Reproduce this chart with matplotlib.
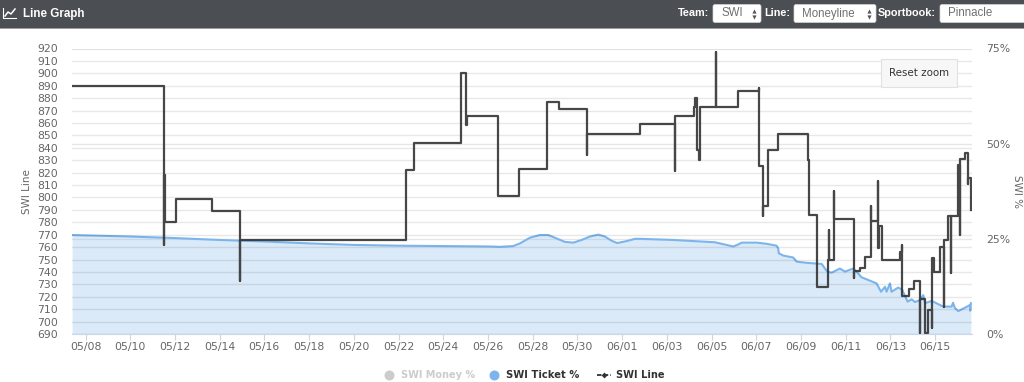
import matplotlib
matplotlib.use('Agg')
import matplotlib.pyplot as plt
from matplotlib.patches import Rectangle, FancyBboxPatch

# days counted from 05/08
line_days = [-0.60, 3.51, 3.53, 3.56, 4.05, 5.66, 6.91, 6.93, 14.33, 14.69, 16.79, 17.02, 17.06,
             18.45, 19.39, 20.64, 21.18, 22.43, 22.45, 24.80, 26.36, 26.38, 27.20, 27.28, 27.35,
             27.43, 27.50, 28.20, 28.21, 29.18, 30.12, 30.13, 30.30, 30.31, 30.53, 30.97, 32.31,
             32.34, 32.72, 33.19, 33.25, 33.27, 33.49, 33.50, 34.37, 34.38, 34.66, 34.87, 35.12,
             35.13, 35.45, 35.46, 35.48, 35.64, 36.42, 36.52, 36.53, 36.84, 37.06, 37.32, 37.33,
             37.57, 37.58, 37.64, 37.67, 37.87, 37.88, 37.97, 38.23, 38.41, 38.42, 38.56, 38.70,
             38.71, 39.03, 39.12, 39.13, 39.32, 39.47, 39.48, 39.60, 39.61]
line_vals = [890, 762, 818, 780, 799, 789, 733, 766, 822, 844, 900, 858, 866,
             801, 823, 877, 871, 834, 851, 859, 821, 866, 873, 880, 838,
             830, 873, 917, 873, 886, 888, 825, 785, 793, 838, 851, 830,
             786, 728, 750, 774, 750, 805, 783, 735, 741, 743, 752, 793,
             781, 813, 759, 777, 750, 756, 762, 721, 726, 733, 691, 718,
             691, 691, 691, 709, 695, 751, 740, 760, 712, 766, 785, 739,
             785, 826, 770, 831, 836, 811, 816, 790, 790]

ticket_days = [-0.60, 2.0, 4.0, 6.0, 8.0, 10.0, 12.0, 14.0, 16.0, 18.0, 18.54, 19.13, 19.43, 19.88,
               20.33, 20.70, 21.07, 21.44, 21.82, 22.19, 22.56, 22.93, 23.23, 23.53, 23.78, 24.20,
               24.58, 24.80, 26.29, 28.15, 28.52, 28.97, 29.19, 29.35, 30.02, 30.46, 30.91, 30.98,
               31.01, 31.21, 31.65, 31.81, 32.25, 32.93, 33.07, 33.19, 33.37, 33.74, 33.97, 34.34,
               34.56, 34.71, 35.38, 35.58, 35.76, 35.83, 35.98, 36.05, 36.35, 36.53, 36.77, 36.95,
               37.10, 37.32, 37.47, 37.55, 37.85, 38.36, 38.74, 38.80, 38.89, 39.04, 39.56, 39.57,
               39.60]
ticket_vals = [26.0, 25.6, 25.2, 24.7, 24.3, 23.8, 23.4, 23.2, 23.1, 23.0, 22.9, 23.1, 23.8, 25.3,
               26.0, 26.0, 25.1, 24.2, 24.0, 24.7, 25.6, 26.1, 25.6, 24.5, 23.9, 24.4,
               25.0, 25.0, 24.7, 24.1, 23.6, 23.0, 23.5, 24.0, 24.0, 23.7, 23.2, 22.5,
               21.2, 20.6, 20.1, 19.0, 18.7, 18.4, 17.2, 16.4, 16.1, 17.2, 16.4, 17.2,
               15.9, 14.9, 13.3, 11.1, 12.4, 11.1, 13.3, 11.1, 12.2, 11.6, 8.5, 9.1,
               8.4, 8.9, 10.2, 8.1, 8.7, 7.2, 7.2, 8.2, 6.8, 6.0, 7.6, 6.1,
               8.1]

date_labels = ['05/08', '05/10', '05/12', '05/14', '05/16', '05/18', '05/20', '05/22', '05/24', '05/26',
               '05/28', '05/30', '06/01', '06/03', '06/05', '06/07', '06/09', '06/11', '06/13', '06/15']
date_ticks = [0, 2, 4, 6, 8, 10, 12, 14, 16, 18, 20, 22, 24, 26, 28, 30, 32, 34, 36, 38]
line_ticks = list(range(690, 921, 10))
pct_ticks = [0, 25, 50, 75]

W, H = 1024, 382
GREY = '#666666'
GRID = '#e6e6e6'
BLUE = '#7cb5ec'
DARK = '#333333'

plt.rcParams['font.family'] = ['DejaVu Sans']
fig = plt.figure(figsize=(W / 100, H / 100), dpi=100, facecolor='white')
rect = [72 / W, (H - 334) / H, 900 / W, 285.5 / H]

# percent axis underneath, line axis on top
ax2 = fig.add_axes(rect)
ax2.set_xlim(-0.604, 39.65)
ax2.set_ylim(0, 75)
ax2.set_yticks(pct_ticks)
ax2.set_yticklabels([f'{p}%' for p in pct_ticks])
ax2.yaxis.tick_right()
ax2.yaxis.set_label_position('right')
ax2.grid(axis='y', color=GRID, lw=1)
ax2.set_axisbelow(True)
ax2.fill_between(ticket_days, ticket_vals, 0, color=BLUE, alpha=0.27, lw=0)
ax2.plot(ticket_days, ticket_vals, color=BLUE, lw=1.5, zorder=3)
ax2.set_xticks(date_ticks)
ax2.set_xticklabels(date_labels)
ax2.tick_params(axis='x', length=4.3, width=0.8, color='#ccd6eb', labelcolor=GREY, labelsize=7.8, pad=1.5)
ax2.tick_params(axis='y', length=0, labelcolor=GREY, labelsize=7.8, pad=10)
ax2.set_ylabel('SWI %', color=GREY, fontsize=7.5, rotation=270, va='center')
ax2.yaxis.set_label_coords(1.05, 0.5)
for s in ['top', 'left', 'right']:
    ax2.spines[s].set_visible(False)
ax2.spines['bottom'].set_color('#ccd6eb')

ax = fig.add_axes(rect, sharex=ax2)
ax.patch.set_visible(False)
ax.set_ylim(690, 920)
ax.set_yticks(line_ticks)
ax.grid(axis='y', color='#000000', alpha=0.09, lw=1)
ax.set_axisbelow(True)
ax.plot(line_days, line_vals, color=DARK, lw=1.6, drawstyle='steps-post', alpha=0.9, zorder=4)
ax.tick_params(axis='y', length=0, labelcolor=GREY, labelsize=7.8, pad=10.2)
ax.tick_params(axis='x', length=0, labelbottom=False)
ax.set_ylabel('SWI Line', color=GREY, fontsize=7.5, va='center')
ax.yaxis.set_label_coords(-0.05, 0.5)
for s in ax.spines.values():
    s.set_visible(False)

# page furniture in pixel coordinates: header bar, button, legend
ui = fig.add_axes([0, 0, 1, 1], zorder=5)
ui.set_xlim(0, W)
ui.set_ylim(H, 0)
ui.axis('off')
ui.add_patch(Rectangle((0, 0), W, 28, color='#4b4e53', lw=0))
ui.add_patch(Rectangle((0, 28), W, 1, color='#9a9c9f', lw=0))
ui.plot([3, 3, 16], [8, 18, 18], color='white', lw=0.8)
ui.plot([5, 8, 11, 15], [16, 12, 14, 9], color='white', lw=1.1)
ui.text(23, 14.5, 'Line Graph', color='white', fontsize=8.4, fontweight='bold', family='Liberation Sans', va='center')

for x, label in [(709, 'Team:'), (790, 'Line:'), (936, 'Sportbook:')]:
    ui.text(x, 13.5, label, color='white', fontsize=7.8, fontweight='bold', family='Liberation Sans', va='center', ha='right')
for x0, x1, label in [(713, 761, 'SWI'), (794, 876, 'Moneyline'), (940, 1040, 'Pinnacle')]:
    ui.add_patch(FancyBboxPatch((x0 + 2, 6.5), x1 - x0 - 4, 14, boxstyle='round,pad=2', fc='white', ec='#d5d5d5', lw=0.5))
    ui.text(x0 + 8, 13.5, label, color='#707070', fontsize=8.3, family='Liberation Sans', va='center')
    if x1 < W:
        ui.scatter([x1 - 7], [10.5], marker='^', s=9, color='#555555', lw=0)
        ui.scatter([x1 - 7], [16.5], marker='v', s=9, color='#555555', lw=0)

ui.add_patch(Rectangle((881, 59), 76, 27.5, fc='#f7f7f7', ec='#e2e2e2', lw=0.8))
ui.text(919, 73, 'Reset zoom', color='#333333', fontsize=7.4, ha='center', va='center')

ui.scatter([389], [375], s=52, color='#cccccc', lw=0)
ui.text(401, 375.5, 'SWI Money %', color='#cccccc', fontsize=7.0, fontweight='bold', va='center')
ui.scatter([494], [375], s=52, color=BLUE, lw=0)
ui.text(506, 375.5, 'SWI Ticket %', color=DARK, fontsize=7.2, fontweight='bold', va='center')
ui.plot([597, 611], [375, 375], color=DARK, lw=1.3, ls=(0, (2.5, 1.2)))
ui.scatter([604], [375], marker='D', s=9, color=DARK, lw=0)
ui.text(616, 375.5, 'SWI Line', color=DARK, fontsize=7.1, fontweight='bold', va='center')

fig.savefig('out.png', dpi=100)
